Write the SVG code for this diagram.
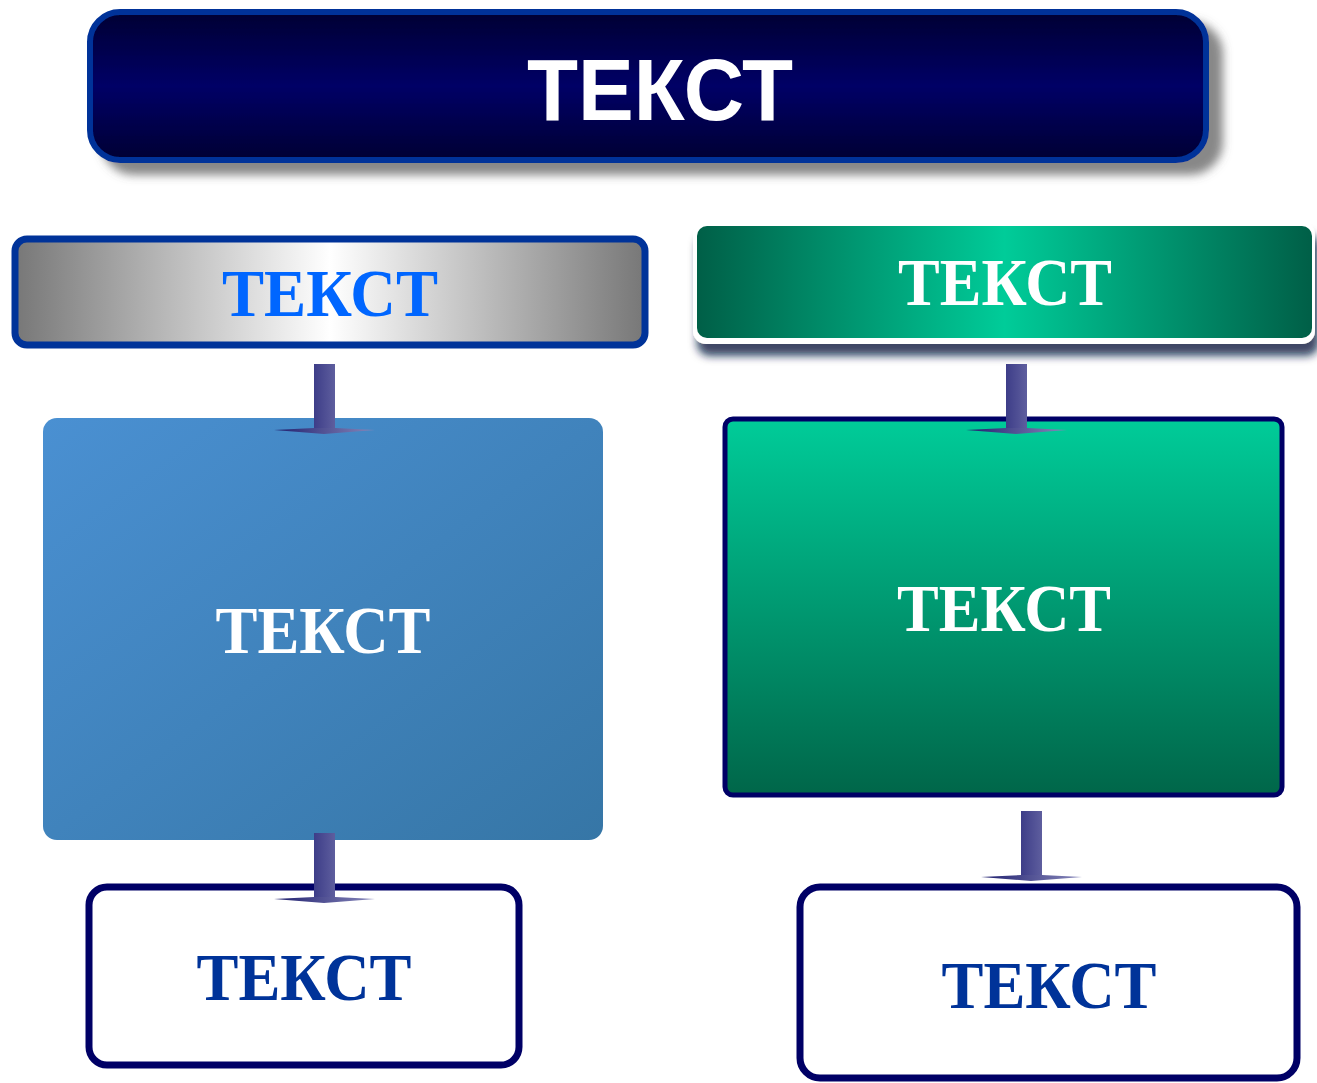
<svg xmlns="http://www.w3.org/2000/svg" width="1317" height="1083" viewBox="0 0 1317 1083">
<defs>
<style>
.t{font-family:"Liberation Serif","Times New Roman",serif;font-weight:bold;font-size:68px;text-anchor:middle}
.w{fill:#ffffff}
</style>
<linearGradient id="gTitle" x1="0" y1="0" x2="0" y2="1">
<stop offset="0" stop-color="#000033"/><stop offset="0.5" stop-color="#000066"/><stop offset="1" stop-color="#000033"/>
</linearGradient>
<linearGradient id="gGray" x1="0" y1="0" x2="1" y2="0">
<stop offset="0" stop-color="#777777"/><stop offset="0.5" stop-color="#ffffff"/><stop offset="1" stop-color="#777777"/>
</linearGradient>
<linearGradient id="gGreenH" x1="0" y1="0" x2="1" y2="0">
<stop offset="0" stop-color="#005f47"/><stop offset="0.5" stop-color="#00cc99"/><stop offset="1" stop-color="#005f47"/>
</linearGradient>
<linearGradient id="gBlue" x1="0" y1="0" x2="1" y2="1">
<stop offset="0" stop-color="#4a90d2"/><stop offset="1" stop-color="#3676a6"/>
</linearGradient>
<linearGradient id="gGreenV" x1="0" y1="0" x2="0" y2="1">
<stop offset="0" stop-color="#00cc99"/><stop offset="1" stop-color="#006649"/>
</linearGradient>
<linearGradient id="gShaft" x1="0" y1="0" x2="1" y2="0">
<stop offset="0" stop-color="#3d3d88"/><stop offset="1" stop-color="#5e5e9e"/>
</linearGradient>
<linearGradient id="gHead" x1="0" y1="0" x2="1" y2="0">
<stop offset="0" stop-color="#1e1e6e"/><stop offset="1" stop-color="#8888bb"/>
</linearGradient>
<filter id="shTitle" x="-5%" y="-20%" width="115%" height="160%">
<feGaussianBlur in="SourceAlpha" stdDeviation="5"/>
<feOffset dx="14" dy="12" result="b"/>
<feFlood flood-color="#555555" flood-opacity="0.7"/>
<feComposite in2="b" operator="in"/>
<feMerge><feMergeNode/><feMergeNode in="SourceGraphic"/></feMerge>
</filter>
<filter id="shGreen" x="-5%" y="-20%" width="115%" height="160%">
<feGaussianBlur in="SourceAlpha" stdDeviation="4"/>
<feOffset dx="4" dy="12" result="b"/>
<feFlood flood-color="#0a1a40" flood-opacity="0.8"/>
<feComposite in2="b" operator="in"/>
<feMerge><feMergeNode/><feMergeNode in="SourceGraphic"/></feMerge>
</filter>
<g id="arrow">
<rect x="0" y="0" width="21" height="68" fill="url(#gShaft)"/>
<polygon points="-40,66 0,64 21,64 61,66 10,70" fill="url(#gHead)"/>
</g>
</defs>
<rect width="1317" height="1083" fill="#ffffff"/>

<g id="title">
<rect x="90" y="12" width="1116" height="148" rx="30" fill="url(#gTitle)" stroke="#003399" stroke-width="6" filter="url(#shTitle)"/>
<text x="660" y="120" font-family="Liberation Sans, Arial, sans-serif" font-weight="bold" font-size="88" fill="#ffffff" text-anchor="middle" textLength="266" lengthAdjust="spacingAndGlyphs">ТЕКСТ</text>
</g>

<g id="gray-header">
<rect x="15" y="239" width="630" height="106" rx="12" fill="url(#gGray)" stroke="#003399" stroke-width="7"/>
<text class="t" x="330" y="316" fill="#0066ff" textLength="216" lengthAdjust="spacingAndGlyphs">ТЕКСТ</text>
</g>

<g id="green-header">
<rect x="693" y="222" width="622" height="122" rx="13" fill="#ffffff" filter="url(#shGreen)"/>
<rect x="697" y="226" width="615" height="112" rx="10" fill="url(#gGreenH)"/>
<text class="t w" x="1005" y="305" textLength="214" lengthAdjust="spacingAndGlyphs">ТЕКСТ</text>
</g>

<g id="blue-box">
<rect x="43" y="418" width="560" height="422" rx="14" fill="url(#gBlue)"/>
<text class="t w" x="323" y="653" textLength="215" lengthAdjust="spacingAndGlyphs">ТЕКСТ</text>
</g>

<g id="green-box">
<rect x="725" y="419" width="557" height="376" rx="8" fill="url(#gGreenV)" stroke="#000066" stroke-width="5"/>
<text class="t w" x="1004" y="631" textLength="214" lengthAdjust="spacingAndGlyphs">ТЕКСТ</text>
</g>

<g id="white-box-left">
<rect x="89" y="887" width="430" height="178" rx="18" fill="#ffffff" stroke="#000066" stroke-width="7"/>
<text class="t" x="304" y="1000" fill="#003399" textLength="215" lengthAdjust="spacingAndGlyphs">ТЕКСТ</text>
</g>

<g id="white-box-right">
<rect x="800" y="887" width="497" height="191" rx="20" fill="#ffffff" stroke="#000066" stroke-width="7"/>
<text class="t" x="1049" y="1008" fill="#003399" textLength="215" lengthAdjust="spacingAndGlyphs">ТЕКСТ</text>
</g>

<g id="connectors">
<use href="#arrow" x="314" y="364"/>
<use href="#arrow" x="314" y="833"/>
<use href="#arrow" x="1006" y="364"/>
<use href="#arrow" x="1021" y="811"/>
</g>
</svg>
